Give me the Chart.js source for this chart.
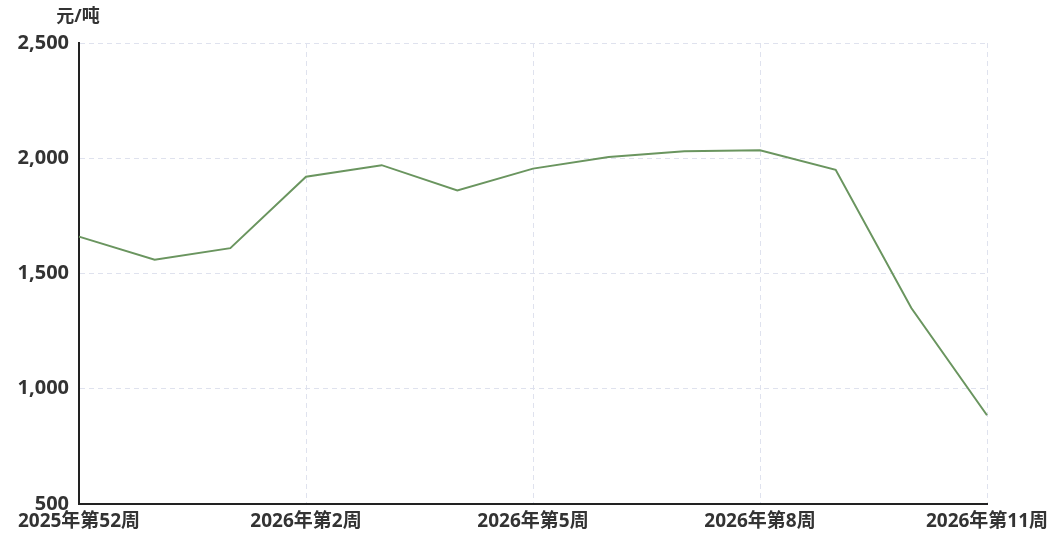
<!DOCTYPE html>
<html>
<head>
    <title>Price Chart</title>
    <style>
        body {
            margin: 0;
            background: #fff;
        }

        .chart-container {
            width: 1061px;
            height: 544px;
        }
    </style>
    <script src="https://cdn.jsdelivr.net/npm/chart.js"></script>
</head>
<body>

    <div class="chart-container">
        <canvas id="priceChart"></canvas>
    </div>

    <script>
        // 13 weekly points, only every third week is labelled on the axis
        const categories = ['2025年第52周', '2026年第1周', '2026年第1周', '2026年第2周', '2026年第3周', '2026年第4周',
            '2026年第5周', '2026年第6周', '2026年第7周', '2026年第8周', '2026年第9周', '2026年第10周', '2026年第11周'];
        const prices = [1660, 1560, 1610, 1920, 1970, 1860, 1955, 2005, 2030, 2035, 1950, 1350, 885];
        const shownLabels = ['2025年第52周', '2026年第2周', '2026年第5周', '2026年第8周', '2026年第11周'];
        const yTicks = [500, 1000, 1500, 2000, 2500];
        const unitLabel = '元/吨';

        const family = '"Open Sans", "Noto Sans CJK SC", sans-serif';
        const shownIndex = i => i % 3 === 0;

        const unitPlugin = {
            id: 'unitLabel',
            afterDraw(chart) {
                const ctx = chart.ctx;
                ctx.save();
                ctx.font = 'bold 18px ' + family;
                ctx.fillStyle = '#333';
                ctx.textAlign = 'center';
                ctx.textBaseline = 'middle';
                ctx.fillText(unitLabel, chart.chartArea.left - 1, 17);
                ctx.restore();
            }
        };

        new Chart(document.getElementById('priceChart'), {
            type: 'line',
            data: {
                labels: categories,
                datasets: [{
                    data: prices,
                    borderColor: '#6a955f',
                    borderWidth: 2,
                    pointRadius: 0,
                    tension: 0,
                    fill: false
                }]
            },
            options: {
                responsive: true,
                maintainAspectRatio: false,
                animation: false,
                layout: { padding: { top: 43, right: 74, left: 0, bottom: 0 } },
                plugins: {
                    legend: { display: false },
                    tooltip: { enabled: false }
                },
                scales: {
                    x: {
                        offset: false,
                        border: { color: '#222', width: 2, dash: [5, 4] },
                        grid: {
                            color: c => (shownIndex(c.index) && c.index > 0) ? '#dfe2ee' : 'rgba(0,0,0,0)',
                            drawTicks: false
                        },
                        ticks: {
                            autoSkip: false,
                            maxRotation: 0,
                            padding: 6,
                            color: '#333',
                            font: { family: family, size: 19, weight: 'bold' },
                            callback: (v, i) => shownIndex(i) ? shownLabels[i / 3] : ''
                        },
                        afterFit: s => { s.height = 40; }
                    },
                    y: {
                        min: 500,
                        max: 2500,
                        afterBuildTicks: s => { s.ticks = yTicks.map(v => ({ value: v })); },
                        border: { color: '#222', width: 2, dash: [5, 4] },
                        grid: {
                            color: c => c.index > 0 ? '#dfe2ee' : 'rgba(0,0,0,0)',
                            drawTicks: false
                        },
                        ticks: {
                            padding: 10,
                            color: '#333',
                            font: { family: family, size: 20, weight: 'bold' },
                            callback: v => v.toLocaleString('en-US')
                        },
                        afterFit: s => { s.width = 79; }
                    }
                }
            },
            plugins: [unitPlugin]
        });
    </script>

</body>
</html>
